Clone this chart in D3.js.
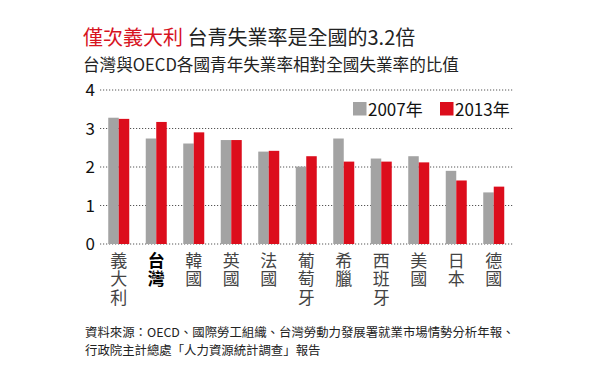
<!DOCTYPE html>
<html><head><meta charset="utf-8">
<script src="https://cdn.jsdelivr.net/npm/d3@7"></script>
<style>body{margin:0;background:#fff}svg{display:block;font-family:"Noto Sans CJK TC","Noto Sans",sans-serif}</style>
</head><body><svg id="c" width="600" height="384"></svg>
<script>
const categories = ["義大利","台灣","韓國","英國","法國","葡萄牙","希臘","西班牙","美國","日本","德國"];
const series = ["2007年","2013年"];
const values2007 = [3.28,2.74,2.61,2.70,2.40,2.01,2.74,2.22,2.28,1.90,1.34];
const values2013 = [3.25,3.17,2.90,2.70,2.42,2.28,2.14,2.14,2.12,1.65,1.49];
const yTicks = [0,1,2,3,4];
const colors = ["#a3a3a3","#dc0d1c"];

const svg = d3.select("#c");
const x = d3.scaleBand().domain(categories).range([100,512.5]).paddingInner(0.44).paddingOuter(0.22);
const xs = d3.scaleBand().domain(series).range([0,x.bandwidth()]);
const y = d3.scaleLinear().domain([0,4]).range([244,90]);

// title
const t = svg.append("text").attr("x",83).attr("y",45).attr("font-size",20);
t.append("tspan").attr("fill","#d7141f").text("僅次義大利");
t.append("tspan").attr("fill","#222").text(" 台青失業率是全國的3.2倍");
svg.append("text").attr("x",83).attr("y",71).attr("font-size",16.6).attr("fill","#222").text("台灣與OECD各國青年失業率相對全國失業率的比值");

// gridlines
svg.append("g").selectAll("line").data(yTicks).join("line")
  .attr("x1",100).attr("x2",513).attr("y1",d=>y(d)).attr("y2",d=>y(d))
  .attr("stroke","#555").attr("stroke-width",1).attr("stroke-dasharray","1.2,1.8");
svg.append("g").selectAll("text").data(yTicks).join("text")
  .attr("x",95).attr("y",d=>y(d)+6).attr("text-anchor","end").attr("font-size",17).attr("fill","#111").text(d=>d);

// bars
const data = categories.map((c,i)=>({c, v:[values2007[i],values2013[i]]}));
const g = svg.append("g").selectAll("g").data(data).join("g").attr("transform",d=>`translate(${x(d.c)},0)`);
g.selectAll("rect").data(d=>d.v.map((v,j)=>({s:series[j],v,j}))).join("rect")
  .attr("x",d=>xs(d.s)).attr("width",xs.bandwidth()).attr("y",d=>y(d.v)).attr("height",d=>y(0)-y(d.v))
  .attr("fill",d=>colors[d.j]);

// category labels (vertical)
svg.append("g").selectAll("text").data(categories).join("text")
  .attr("x",d=>x(d)+x.bandwidth()/2).attr("y",252)
  .style("writing-mode","vertical-rl").style("text-orientation","upright")
  .attr("letter-spacing",1.5).attr("font-size",17)
  .attr("fill",d=>d==="台灣"?"#000":"#444").attr("font-weight",d=>d==="台灣"?"bold":"normal")
  .text(d=>d);

// legend
const lg = svg.append("g").selectAll("g").data(series).join("g")
  .attr("transform",(d,i)=>`translate(${[353,440][i]},102)`);
lg.append("rect").attr("width",13.5).attr("height",13.5).attr("fill",(d,i)=>colors[i]);
lg.append("text").attr("x",15).attr("y",13.5).attr("font-size",17).attr("fill","#111").text(d=>d);

// footnote
svg.append("text").attr("x",85).attr("y",336.5).attr("font-size",12.4).attr("fill","#222").text("資料來源：OECD、國際勞工組織、台灣勞動力發展署就業市場情勢分析年報、");
svg.append("text").attr("x",85).attr("y",354.5).attr("font-size",12.4).attr("fill","#222").text("行政院主計總處「人力資源統計調查」報告");
</script></body></html>
